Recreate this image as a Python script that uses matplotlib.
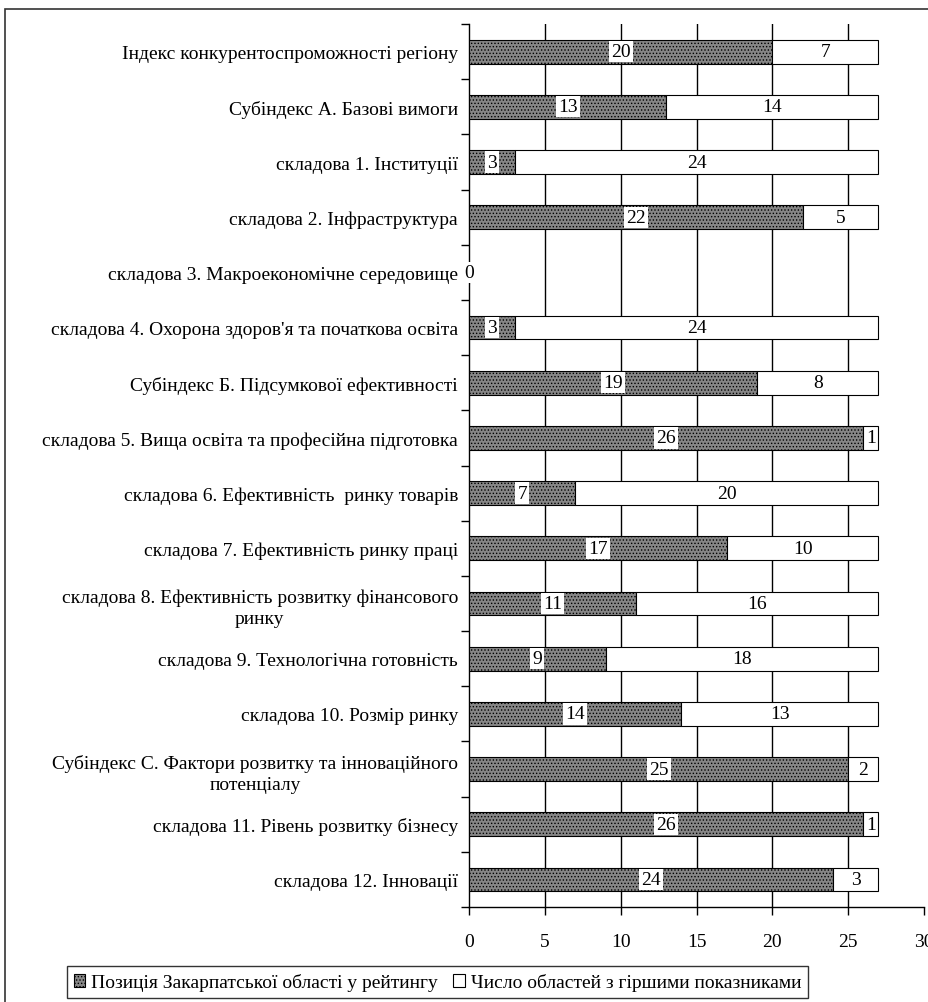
from matplotlib import pyplot as plt
from matplotlib.patches import Rectangle
import numpy as np

plt.rcParams['font.family'] = ['Liberation Serif', 'DejaVu Serif']
plt.rcParams['hatch.color'] = '#3f3f3f'
plt.rcParams['hatch.linewidth'] = 0.6

labels = [
    "Індекс конкурентоспроможності регіону",
    "Субіндекс А. Базові вимоги",
    "складова 1. Інституції",
    "складова 2. Інфраструктура",
    "складова 3. Макроекономічне середовище",
    "складова 4. Охорона здоров'я та початкова освіта",
    "Субіндекс Б. Підсумкової ефективності",
    "складова 5. Вища освіта та професійна підготовка",
    "складова 6. Ефективність  ринку товарів",
    "складова 7. Ефективність ринку праці",
    "складова 8. Ефективність розвитку фінансового\nринку",
    "складова 9. Технологічна готовність",
    "складова 10. Розмір ринку",
    "Субіндекс С. Фактори розвитку та інноваційного\nпотенціалу",
    "складова 11. Рівень розвитку бізнесу",
    "складова 12. Інновації",
]
position = [20, 13, 3, 22, 0, 3, 19, 26, 7, 17, 11, 9, 14, 25, 26, 24]
worse = [7, 14, 24, 5, None, 24, 8, 1, 20, 10, 16, 18, 13, 2, 1, 3]

legend_labels = ["Позиція Закарпатської області у рейтингу",
                 "Число областей з гіршими показниками"]


def main():
    fig = plt.figure(figsize=(9.29, 10.03), dpi=100)
    ax = fig.add_axes([0.505, 0.0947, 0.4896, 0.8803])

    y = np.arange(len(labels))
    worse_vals = np.array([0 if w is None else w for w in worse], dtype=float)
    pos = np.array(position, dtype=float)

    b1 = ax.barh(y, pos, height=0.43, color='#868686', edgecolor='black',
                 linewidth=0.8, hatch='.....', label=legend_labels[0], zorder=3)
    b2 = ax.barh(y, worse_vals, left=pos, height=0.43, color='white',
                 edgecolor='black', linewidth=0.8, label=legend_labels[1], zorder=3)
    for bar, w in zip(b2, worse):
        if w is None:
            bar.set_visible(False)

    fs = 14
    for i in range(len(labels)):
        ax.text(pos[i] / 2, y[i], str(position[i]), ha='center', va='center',
                fontsize=fs, zorder=5,
                bbox=dict(facecolor='white', edgecolor='none', pad=1.5))
        if worse[i] is not None:
            ax.text(pos[i] + worse_vals[i] / 2, y[i], str(worse[i]), ha='center',
                    va='center', fontsize=fs, zorder=5)

    ax.set_xlim(0, 30)
    ax.set_ylim(len(labels) - 0.5, -0.5)
    ax.set_xticks(np.arange(0, 31, 5))
    ax.set_yticks(y)
    ax.set_yticklabels(labels, fontsize=fs, multialignment='center',
                       linespacing=1.35)
    ax.set_yticks(np.arange(-0.5, len(labels), 1), minor=True)
    ax.tick_params(axis='y', which='major', length=0, pad=8)
    ax.tick_params(axis='y', which='minor', length=6, width=1)
    ax.tick_params(axis='x', length=6, width=1, labelsize=fs, pad=13)

    for x in range(5, 30, 5):
        ax.axvline(x, color='black', linewidth=1.0, zorder=1)

    ax.spines['top'].set_visible(False)
    ax.spines['right'].set_visible(False)
    ax.spines['left'].set_linewidth(1.0)
    ax.spines['bottom'].set_linewidth(1.0)

    fig.legend(handles=[b1, b2], labels=legend_labels, loc='lower center',
               bbox_to_anchor=(0.471, 0.004), ncol=2, fontsize=fs,
               frameon=True, fancybox=False, edgecolor='black',
               handlelength=0.6, handleheight=0.6, handletextpad=0.3,
               columnspacing=0.8, borderpad=0.35, borderaxespad=0.0)

    border = Rectangle((0.0054, -0.1), 1.1, 1.0903, transform=fig.transFigure,
                       fill=False, edgecolor='#333333', linewidth=1.2)
    fig.add_artist(border)

    fig.savefig("out.png", dpi=100)


if __name__ == "__main__":
    main()
